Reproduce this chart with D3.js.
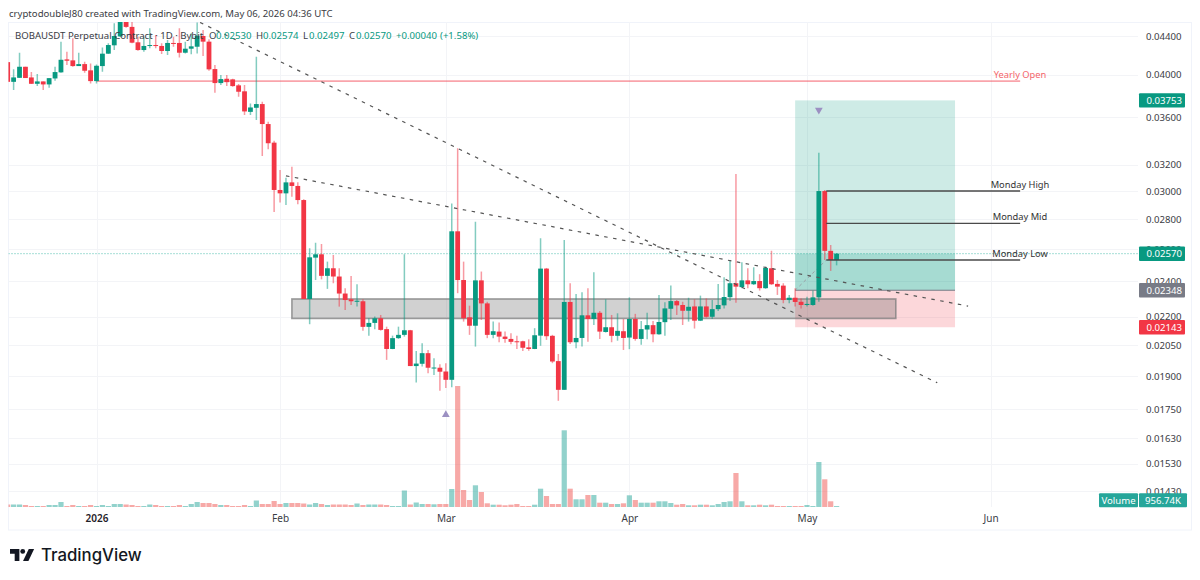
<!DOCTYPE html>
<html>
<head>
<meta charset="utf-8">
<script src="https://cdn.jsdelivr.net/npm/d3@7"></script>
<style>
  html, body { margin: 0; padding: 0; background: #fff; }
  svg { display: block; }
  text { font-family: "Noto Sans", sans-serif; }
</style>
</head>
<body>
<svg id="chart" width="1200" height="580"></svg>
<script>
// BOBAUSDT perpetual, daily candles starting 17 Dec 2025 (one entry per day)
const firstDay = Date.UTC(2025, 11, 17);

const opens = [
  .04125,.03929,.03968,.04078,.03972,.03910,.03933,.03904,.03962,.04022,
  .04153,.04143,.04085,.04105,.04042,.03936,.04085,.04212,.04300,.04396,
  .04577,.04500,.04332,.04250,.04296,.04303,.04293,.04240,.04325,.04325,
  .04222,.04264,.04285,.04400,.04339,.04055,.03917,.03959,.03953,.03895,
  .03838,.03648,.03685,.03719,.03540,.03381,.03008,.02983,.03065,.03038,
  .02934,.02298,.02545,.02566,.02433,.02479,.02429,.02329,.02296,.02282,
  .02285,.02145,.02166,.02191,.02133,.02031,.02086,.02103,.02127,.01947,
  .01958,.02010,.01937,.01939,.01921,.01882,.02716,.02408,.02196,.02151,
  .02406,.02273,.02103,.02120,.02094,.02082,.02070,.02070,.02039,.02031,
  .02099,.02477,.02098,.01971,.01836,.02281,.02065,.02087,.02207,.02187,
  .02221,.02118,.02143,.02098,.02122,.02089,.02187,.02082,.02131,.02154,
  .02106,.02170,.02243,.02286,.02264,.02232,.02256,.02178,.02256,.02199,
  .02241,.02262,.02308,.02389,.02366,.02406,.02383,.02402,.02360,.02479,
  .02385,.02375,.02292,.02305,.02282,.02264,.02264,.02307,.03000,.02588,
  .02530
];
const closes = [
  .03929,.03972,.04078,.03966,.03910,.03933,.03904,.03965,.04025,.04149,
  .04139,.04085,.04105,.04038,.03936,.04088,.04212,.04303,.04400,.04577,
  .04500,.04328,.04250,.04293,.04303,.04296,.04240,.04325,.04318,.04222,
  .04264,.04289,.04403,.04339,.04052,.03917,.03956,.03926,.03888,.03834,
  .03652,.03688,.03719,.03540,.03376,.03008,.02983,.03065,.03038,.02934,
  .02298,.02547,.02566,.02433,.02479,.02429,.02329,.02292,.02285,.02288,
  .02145,.02166,.02191,.02129,.02031,.02086,.02103,.02127,.01947,.01959,
  .02010,.01939,.01940,.01920,.01882,.02716,.02408,.02191,.02151,.02406,
  .02273,.02103,.02122,.02094,.02082,.02067,.02067,.02037,.02031,.02101,
  .02477,.02096,.01969,.01836,.02281,.02065,.02087,.02207,.02187,.02221,
  .02120,.02143,.02098,.02124,.02087,.02187,.02082,.02133,.02154,.02106,
  .02171,.02245,.02286,.02262,.02232,.02254,.02178,.02256,.02199,.02241,
  .02264,.02309,.02389,.02369,.02406,.02383,.02402,.02360,.02481,.02383,
  .02369,.02292,.02305,.02281,.02264,.02270,.02307,.03000,.02588,.02530,
  .02570
];
const highs = [
  .04125,.04052,.04222,.04078,.04025,.04005,.03933,.03965,.04078,.04339,
  .04232,.04376,.04222,.04129,.04112,.04102,.04278,.04321,.04542,.04692,
  .04650,.04620,.04392,.04392,.04485,.04411,.04321,.04357,.04392,.04485,
  .04339,.04431,.04550,.04466,.04364,.04095,.03995,.03995,.03959,.03907,
  .03898,.03725,.04180,.03740,.03560,.03397,.03160,.03100,.03186,.03065,
  .02939,.02605,.02641,.02632,.02520,.02562,.02479,.02360,.02432,.02383,
  .02296,.02191,.02200,.02209,.02146,.02099,.02146,.02566,.02129,.02021,
  .02060,.02026,.01985,.01956,.01961,.02910,.03334,.02520,.02260,.02781,
  .02459,.02282,.02173,.02168,.02120,.02111,.02098,.02073,.02080,.02138,
  .02669,.02481,.02103,.02006,.02658,.02389,.02327,.02337,.02360,.02455,
  .02231,.02296,.02209,.02218,.02187,.02307,.02215,.02176,.02221,.02176,
  .02321,.02279,.02375,.02292,.02282,.02305,.02296,.02317,.02301,.02292,
  .02385,.02424,.02530,.03129,.02516,.02479,.02485,.02443,.02489,.02589,
  .02408,.02389,.02321,.02360,.02301,.02311,.02346,.03298,.03008,.02626,
  .02574
];
const lows = [
  .03929,.03850,.03968,.03966,.03907,.03888,.03850,.03872,.03939,.04018,
  .04095,.04078,.04085,.04018,.03914,.03914,.04028,.04209,.04250,.04390,
  .04490,.04321,.04243,.04232,.04268,.04268,.04209,.04198,.04285,.04173,
  .04215,.04205,.04215,.04188,.04038,.03824,.03898,.03888,.03882,.03786,
  .03619,.03619,.03575,.03271,.03326,.02849,.02917,.02898,.02958,.02903,
  .02298,.02159,.02408,.02412,.02356,.02389,.02255,.02236,.02264,.02255,
  .02124,.02099,.02133,.02125,.01977,.02030,.02082,.02094,.01947,.01869,
  .01945,.01913,.01905,.01832,.01844,.01848,.02331,.02173,.02103,.02043,
  .02182,.02086,.02086,.02065,.02062,.02055,.02031,.02021,.02022,.02030,
  .02047,.02077,.01961,.01787,.01836,.02056,.02035,.02043,.02068,.02155,
  .02082,.02115,.02065,.02073,.02026,.02030,.02073,.02052,.02080,.02065,
  .02103,.02099,.02182,.02209,.02155,.02173,.02136,.02176,.02194,.02187,
  .02231,.02245,.02286,.02277,.02360,.02360,.02379,.02346,.02356,.02379,
  .02321,.02274,.02274,.02255,.02245,.02255,.02260,.02282,.02530,.02463,
  .02497
];
// Daily volume, in millions of contracts
const volumes = [
  2.5,2.5,2.5,2,1,1,1,2,2,5,
  1,2,1,1,2,1,2,1,3,3,
  2.5,2,1,1,2.5,2,1,1,1,2,
  1,3,5,4,4,3,2,2,1,1,
  2,1,6.5,3,3,6,3,4,4,4,
  3.5,2.5,4,3,2,2.5,2.5,2.5,2,3.5,
  2,2.5,2.5,2.5,2,1,1,16.5,2.5,4.5,
  3,3,2.7,3,3,18,121,17,7,21.7,
  15,3.7,2.3,2.3,1.7,2.3,3,1,1,2.3,
  18.3,11,3,3,76.7,18.3,7.7,7.7,12,12,
  4.3,4.3,3,3,3.7,11.7,7,4.3,4.3,4.3,
  5.7,5.7,4,2.3,3,1.7,1.7,2.3,2.3,1.7,
  3,5,5.7,34,5.7,1.7,1.7,2.3,1.7,2.3,
  1,1,1,1,1,2,1,45,27.7,5.7,
  0.95674
];

// Price axis and time axis labels
const priceTicks = [.044,.04,.036,.032,.03,.028,.026,.024,.022,.0205,.019,.0175,.0163,.0153,.0143];
const timeTicks = [
  [Date.UTC(2026,0,1), "2026"], [Date.UTC(2026,1,1), "Feb"], [Date.UTC(2026,2,1), "Mar"],
  [Date.UTC(2026,3,1), "Apr"], [Date.UTC(2026,4,1), "May"], [Date.UTC(2026,5,1), "Jun"]
];

// Drawing tools placed on the chart: times are UTC, levels are prices
const position = { start: Date.UTC(2026,3,29), end: Date.UTC(2026,4,26), target: .03753, entry: .02348, stop: .02143 };
const zone = { start: Date.UTC(2026,1,3), end: Date.UTC(2026,4,16), top: .02298, bottom: .02190 };
const trendLines = [
  [[Date.UTC(2026,0,18,12), .04550], [Date.UTC(2026,4,23), .01868]],
  [[Date.UTC(2026,1,2), .03115], [Date.UTC(2026,4,28,5), .02258]]
];
const yearlyOpen = { price: opens[15], from: Date.UTC(2026,0,1), to: Date.UTC(2026,5,6) };
const mondayLevels = [
  ["Monday High", .03000], ["Monday Mid", .02770], ["Monday Low", .02530]
];
const mondayFrom = Date.UTC(2026,4,4,6), mondayTo = yearlyOpen.to;
const markers = [
  { t: Date.UTC(2026,4,3), price: .03664, up: false },
  { t: Date.UTC(2026,2,1), price: .01726, up: true }
];
const priceTags = [
  [.03753, "#089981"], [.02570, "#089981"], [.02348, "#787b86"], [.02143, "#f23645"]
];

const UP = "#089981", DOWN = "#f23645";
const FONT = 9.6, LABEL = 9.3, TEXT = "#3a3c44";
const pane = { left: 8.5, right: 1138, top: 22, bottom: 507 };

const svg = d3.select("#chart");
const x = d3.scaleUtc().domain([Date.UTC(2026,0,1), Date.UTC(2026,4,1)]).range([96.5, 807]);
const y = d3.scaleLog().domain([.044, .0143]).range([36, 491]);
const yVol = d3.scaleLinear().domain([0, 121]).range([507, 386]);

const days = opens.map((o, i) => ({
  t: firstDay + i * 864e5, o, c: closes[i], h: highs[i], l: lows[i], v: volumes[i], up: closes[i] >= o
}));

svg.append("defs").append("clipPath").attr("id", "pane").append("rect")
  .attr("x", pane.left).attr("y", pane.top)
  .attr("width", pane.right - pane.left).attr("height", pane.bottom - pane.top);

// Outer frame
svg.append("rect").attr("x", 8.5).attr("y", 22.5).attr("width", 1183).attr("height", 507.5)
  .attr("fill", "none").attr("stroke", "#f0f3fa");

// Grid
svg.append("g").selectAll("line").data(priceTicks).join("line")
  .attr("x1", pane.left).attr("x2", pane.right)
  .attr("y1", d => Math.round(y(d)) + .5).attr("y2", d => Math.round(y(d)) + .5)
  .attr("stroke", "#f3f4f7");
svg.append("g").selectAll("line").data(timeTicks).join("line")
  .attr("y1", pane.top).attr("y2", pane.bottom)
  .attr("x1", d => Math.round(x(d[0])) + .5).attr("x2", d => Math.round(x(d[0])) + .5)
  .attr("stroke", "#f3f4f7");

const plot = svg.append("g").attr("clip-path", "url(#pane)");

// Long position: reward and risk areas
plot.append("rect").attr("x", x(position.start)).attr("width", x(position.end) - x(position.start))
  .attr("y", y(position.target)).attr("height", y(position.entry) - y(position.target))
  .attr("fill", UP).attr("fill-opacity", .2);
plot.append("rect").attr("x", x(position.start)).attr("width", x(position.end) - x(position.start))
  .attr("y", y(position.entry)).attr("height", y(position.stop) - y(position.entry))
  .attr("fill", DOWN).attr("fill-opacity", .2);
// Darker part of the reward area, from entry up to the last price
plot.append("rect").attr("x", x(position.start)).attr("width", x(position.end) - x(position.start))
  .attr("y", y(.0257)).attr("height", y(position.entry) - y(.0257))
  .attr("fill", UP).attr("fill-opacity", .2);
plot.append("line").attr("x1", x(position.start)).attr("x2", x(position.end))
  .attr("y1", y(position.entry)).attr("y2", y(position.entry))
  .attr("stroke", "#787b86").attr("stroke-width", 1);
plot.append("line")
  .attr("x1", x(position.start)).attr("y1", y(position.entry))
  .attr("x2", x(Date.UTC(2026,4,4,6))).attr("y2", y(.0253))
  .attr("stroke", "#9aa0a6").attr("stroke-dasharray", "3 3");

// Support zone
plot.append("rect").attr("x", x(zone.start)).attr("width", x(zone.end) - x(zone.start))
  .attr("y", y(zone.top)).attr("height", y(zone.bottom) - y(zone.top))
  .attr("fill", "#464646").attr("fill-opacity", .25)
  .attr("stroke", "#7d7d7d").attr("stroke-opacity", .75).attr("stroke-width", 1.6);

// Volume bars
plot.append("g").selectAll("rect").data(days).join("rect")
  .attr("x", d => x(d.t) - 2.6).attr("width", 5.2)
  .attr("y", d => yVol(d.v)).attr("height", d => yVol(0) - yVol(d.v))
  .attr("fill", d => d.up ? "#26a69a" : "#ef5350").attr("fill-opacity", .5);

// Yearly open level
plot.append("line").attr("x1", x(yearlyOpen.from)).attr("x2", x(yearlyOpen.to))
  .attr("y1", y(yearlyOpen.price)).attr("y2", y(yearlyOpen.price))
  .attr("stroke", "#f23645").attr("stroke-opacity", .45).attr("stroke-width", 1.6);

// Last price line
plot.append("line").attr("x1", pane.left).attr("x2", pane.right)
  .attr("y1", y(.0257)).attr("y2", y(.0257))
  .attr("stroke", "#1fae9a").attr("stroke-opacity", .8).attr("stroke-dasharray", "1 2");

// Candles
const candle = plot.append("g").selectAll("g").data(days).join("g");
candle.append("line")
  .attr("x1", d => x(d.t)).attr("x2", d => x(d.t))
  .attr("y1", d => y(d.h)).attr("y2", d => y(d.l))
  .attr("stroke", d => d.up ? UP : DOWN).attr("stroke-opacity", .5).attr("stroke-width", 1.5);
candle.append("rect")
  .attr("x", d => x(d.t) - 2.4).attr("width", 4.8)
  .attr("y", d => y(Math.max(d.o, d.c)))
  .attr("height", d => Math.max(1, y(Math.min(d.o, d.c)) - y(Math.max(d.o, d.c))))
  .attr("fill", d => d.up ? UP : DOWN);

// Dashed trend lines
plot.append("g").selectAll("line").data(trendLines).join("line")
  .attr("x1", d => x(d[0][0])).attr("y1", d => y(d[0][1]))
  .attr("x2", d => x(d[1][0])).attr("y2", d => y(d[1][1]))
  .attr("stroke", "#555").attr("stroke-width", 1.2).attr("stroke-dasharray", "3.5 5.5");

// Monday range levels
const monday = plot.append("g").selectAll("g").data(mondayLevels).join("g");
monday.append("line").attr("x1", x(mondayFrom)).attr("x2", x(mondayTo))
  .attr("y1", d => y(d[1])).attr("y2", d => y(d[1]))
  .attr("stroke", "#4a4a4a").attr("stroke-width", 1.4);
monday.append("text").attr("x", 1020).attr("y", d => y(d[1]) - 3.5)
  .attr("text-anchor", "middle").attr("font-size", LABEL).attr("fill", "#333")
  .text(d => d[0]);

// Yearly open label
plot.append("text").attr("x", 1020).attr("y", y(yearlyOpen.price) - 3.5)
  .attr("text-anchor", "middle").attr("font-size", LABEL).attr("fill", "#f4656b")
  .text("Yearly Open");

// Triangle markers
plot.append("g").selectAll("path").data(markers).join("path")
  .attr("d", d3.symbol(d3.symbolTriangle, 26))
  .attr("transform", d => `translate(${x(d.t)},${y(d.price)}) rotate(${d.up ? 0 : 180})`)
  .attr("fill", "#9c90c2");

// Price axis
const yAxis = svg.append("g").attr("transform", `translate(1146,0)`)
  .call(d3.axisRight(y).tickValues(priceTicks).tickFormat(d3.format(".5f")).tickSize(0).tickPadding(0));
yAxis.select(".domain").remove();
yAxis.selectAll("text").attr("font-size", FONT).attr("fill", TEXT).attr("font-family", '"Noto Sans"');

// Price tags
const tag = svg.append("g").selectAll("g").data(priceTags).join("g")
  .attr("transform", d => `translate(1139,${y(d[0])})`);
tag.append("rect").attr("y", -7.2).attr("width", 46).attr("height", 14.4).attr("rx", 1).attr("fill", d => d[1]);
tag.append("text").attr("x", 7.5).attr("y", 3.5).attr("font-size", FONT).attr("fill", "#fff")
  .text(d => d[0].toFixed(5));

// Volume label
const volTag = svg.append("g").attr("transform", "translate(0,500.2)");
volTag.append("rect").attr("x", 1099).attr("y", -7).attr("width", 39).attr("height", 14).attr("rx", 1).attr("fill", "#26a69a");
volTag.append("rect").attr("x", 1139).attr("y", -7).attr("width", 48).attr("height", 14).attr("rx", 1).attr("fill", "#26a69a");
volTag.append("text").attr("x", 1118.5).attr("y", 3.4).attr("text-anchor", "middle")
  .attr("font-size", FONT).attr("fill", "#fff").text("Volume");
volTag.append("text").attr("x", 1163).attr("y", 3.4).attr("text-anchor", "middle")
  .attr("font-size", FONT).attr("fill", "#fff").text("956.74K");

// Time axis
const xAxis = svg.append("g").attr("transform", `translate(0,${pane.bottom})`)
  .call(d3.axisBottom(x).tickValues(timeTicks.map(d => d[0]))
    .tickFormat((d, i) => timeTicks[i][1]).tickSize(0).tickPadding(8));
xAxis.select(".domain").remove();
xAxis.selectAll("text").attr("font-size", 10).attr("fill", TEXT).attr("font-family", '"Noto Sans"');
xAxis.selectAll("text").filter((d, i) => i === 0).attr("font-weight", 600).attr("fill", "#1f2128");

// Header line
svg.append("text").attr("x", 9).attr("y", 17).attr("font-size", FONT).attr("fill", TEXT)
  .text("cryptodoubleJ80 created with TradingView.com, May 06, 2026 04:36 UTC");

// Symbol legend
svg.append("text").attr("x", 15).attr("y", 38.5).attr("font-size", FONT).attr("fill", TEXT)
  .text("BOBAUSDT Perpetual Contract · 1D · Bybit");
const legendParts = [
  [209, "O", TEXT], [216, "0.02530", UP],
  [256, "H", TEXT], [263, "0.02574", UP],
  [303, "L", TEXT], [309, "0.02497", UP],
  [349, "C", TEXT], [356, "0.02570", UP],
  [396, "+0.00040", UP], [440, "(+1.58%)", UP]
];
svg.append("g").selectAll("text").data(legendParts).join("text")
  .attr("x", d => d[0]).attr("y", 38.5).attr("font-size", FONT).attr("fill", d => d[2])
  .text(d => d[1]);

// Wordmark
const logo = svg.append("g").attr("transform", "translate(10,549) scale(.67)").attr("fill", "#131722");
logo.append("path").attr("d", "M14 18H7V7H0V0h14Z");
logo.append("circle").attr("cx", 19).attr("cy", 3.6).attr("r", 3.6);
logo.append("path").attr("d", "M27.5 18h-8L28 0h8Z");
svg.append("text").attr("x", 41).attr("y", 560.5).attr("font-size", 16.8).attr("font-weight", 500)
  .attr("fill", "#131722").style("font-family", "Inter").text("TradingView");
</script>
</body>
</html>
